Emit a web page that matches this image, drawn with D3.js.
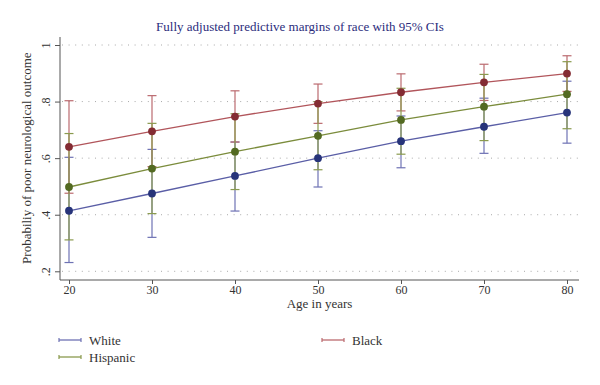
<!DOCTYPE html>
<html>
<head>
<meta charset="utf-8">
<script src="https://cdn.jsdelivr.net/npm/d3@7"></script>
<style>
  body { margin: 0; background: #fff; }
  svg { display: block; }
</style>
</head>
<body>
<svg id="chart" width="600" height="385" viewBox="0 0 600 385"></svg>
<script>
// --- data ---
const ages = [20, 30, 40, 50, 60, 70, 80];
const whiteMean = [0.414, 0.475, 0.537, 0.600, 0.660, 0.711, 0.761];
const whiteLo   = [0.231, 0.320, 0.413, 0.498, 0.566, 0.617, 0.653];
const whiteHi   = [0.603, 0.631, 0.657, 0.697, 0.749, 0.812, 0.872];
const blackMean = [0.640, 0.695, 0.747, 0.793, 0.833, 0.868, 0.899];
const blackLo   = [0.476, 0.570, 0.657, 0.723, 0.767, 0.804, 0.836];
const blackHi   = [0.803, 0.821, 0.838, 0.862, 0.898, 0.932, 0.962];
const hispMean  = [0.498, 0.563, 0.623, 0.679, 0.735, 0.782, 0.826];
const hispLo    = [0.311, 0.404, 0.489, 0.559, 0.614, 0.662, 0.704];
const hispHi    = [0.687, 0.723, 0.757, 0.800, 0.847, 0.896, 0.941];
const yTicks = [0.2, 0.4, 0.6, 0.8, 1];
const yTickLabels = [".2", ".4", ".6", ".8", "1"];

const svg = d3.select("#chart");
const font = "'Liberation Serif', 'DejaVu Serif', serif";

// plot region
const plot = { left: 60, right: 579, top: 37, bottom: 280 };
const x = d3.scaleLinear().domain([20, 80]).range([69, 567]);
const y = d3.scaleLinear().domain([0.2, 1]).range([271.3, 45]);

const series = [
  { name: "White",    mean: whiteMean, lo: whiteLo, hi: whiteHi, dot: "#27347a", line: "#5a5ea6", bar: "#6e72b4" },
  { name: "Black",    mean: blackMean, lo: blackLo, hi: blackHi, dot: "#842c33", line: "#b1555b", bar: "#bb6a6f" },
  { name: "Hispanic", mean: hispMean,  lo: hispLo,  hi: hispHi,  dot: "#536a22", line: "#7b8c3c", bar: "#8a9a4e" }
];

// title
svg.append("text")
  .attr("x", 300).attr("y", 31)
  .attr("text-anchor", "middle")
  .style("font-family", font).style("font-size", "13px")
  .style("fill", "#2b2c7c")
  .text("Fully adjusted predictive margins of race with 95% CIs");

// gridlines (dotted)
svg.append("g").selectAll("line").data(yTicks).join("line")
  .attr("x1", plot.left + 2).attr("x2", plot.right + 1)
  .attr("y1", d => y(d)).attr("y2", d => y(d))
  .style("stroke", "#a9a9a9").style("stroke-width", 1)
  .style("stroke-dasharray", "1,5.6");

// y axis
const yAxis = svg.append("g").attr("transform", `translate(${plot.left},0)`)
  .call(d3.axisLeft(y).tickValues(yTicks).tickSize(5)
    .tickFormat((d, i) => yTickLabels[i]));
yAxis.select(".domain").attr("d", `M0,${plot.top}V${plot.bottom}`)
  .style("stroke", "#555");
yAxis.selectAll(".tick line").style("stroke", "#555");
yAxis.selectAll(".tick text")
  .attr("x", 0).attr("dy", null)
  .attr("transform", "translate(-10,0) rotate(-90)")
  .attr("text-anchor", "middle")
  .style("font-family", font).style("font-size", "12px").style("fill", "#333");

// x axis
const xAxis = svg.append("g").attr("transform", `translate(0,${plot.bottom})`)
  .call(d3.axisBottom(x).tickValues(ages).tickSize(4).tickFormat(d3.format("d")));
xAxis.select(".domain").attr("d", `M${plot.left},0H${plot.right}`)
  .style("stroke", "#555");
xAxis.selectAll(".tick line").style("stroke", "#555");
xAxis.selectAll(".tick text")
  .attr("y", 5)
  .style("font-family", font).style("font-size", "12px").style("fill", "#333");

// axis titles
svg.append("text")
  .attr("x", (plot.left + plot.right) / 2).attr("y", 308)
  .attr("text-anchor", "middle")
  .style("font-family", font).style("font-size", "13px").style("fill", "#333")
  .text("Age in years");

svg.append("text")
  .attr("transform", `translate(31,${(y(0.2) + y(1)) / 2}) rotate(-90)`)
  .attr("text-anchor", "middle")
  .style("font-family", font).style("font-size", "13px").style("fill", "#333")
  .text("Probabiliy of poor neurological outcome");

// CI bars
const capW = 4.5;
series.forEach(s => {
  const g = svg.append("g");
  const rows = ages.map((a, i) => ({ a, lo: s.lo[i], hi: s.hi[i] }));
  g.selectAll("line.v").data(rows).join("line")
    .attr("x1", d => x(d.a)).attr("x2", d => x(d.a))
    .attr("y1", d => y(d.lo)).attr("y2", d => y(d.hi))
    .style("stroke", s.bar).style("stroke-width", 1.2);
  ["lo", "hi"].forEach(k => {
    g.selectAll("line." + k).data(rows).join("line")
      .attr("x1", d => x(d.a) - capW).attr("x2", d => x(d.a) + capW)
      .attr("y1", d => y(d[k])).attr("y2", d => y(d[k]))
      .style("stroke", s.bar).style("stroke-width", 1.2);
  });
});

// connecting lines and markers
const lineGen = d3.line().x(d => x(d[0])).y(d => y(d[1]));
series.forEach(s => {
  const pts = ages.map((a, i) => [a, s.mean[i]]);
  svg.append("path").datum(pts)
    .attr("d", lineGen)
    .style("fill", "none").style("stroke", s.line).style("stroke-width", 1.3);
  svg.append("g").selectAll("circle").data(pts).join("circle")
    .attr("cx", d => x(d[0])).attr("cy", d => y(d[1])).attr("r", 3.9)
    .style("fill", s.dot);
});

// legend (two columns)
const legendItems = [
  { s: series[0], col: 0, row: 0 },
  { s: series[1], col: 1, row: 0 },
  { s: series[2], col: 0, row: 1 }
];
const legX = [59, 322], legY = [340, 357];
legendItems.forEach(it => {
  const lx = legX[it.col], ly = legY[it.row];
  const g = svg.append("g");
  g.append("line").attr("x1", lx).attr("x2", lx + 22).attr("y1", ly).attr("y2", ly)
    .style("stroke", it.s.bar).style("stroke-width", 1.3);
  [lx, lx + 22].forEach(cx => g.append("line")
    .attr("x1", cx).attr("x2", cx).attr("y1", ly - 2).attr("y2", ly + 2)
    .style("stroke", it.s.bar).style("stroke-width", 1.2));
  g.append("text").attr("x", lx + 30).attr("y", ly + 4.5)
    .style("font-family", font).style("font-size", "13px").style("fill", "#333")
    .text(it.s.name);
});
</script>
</body>
</html>
